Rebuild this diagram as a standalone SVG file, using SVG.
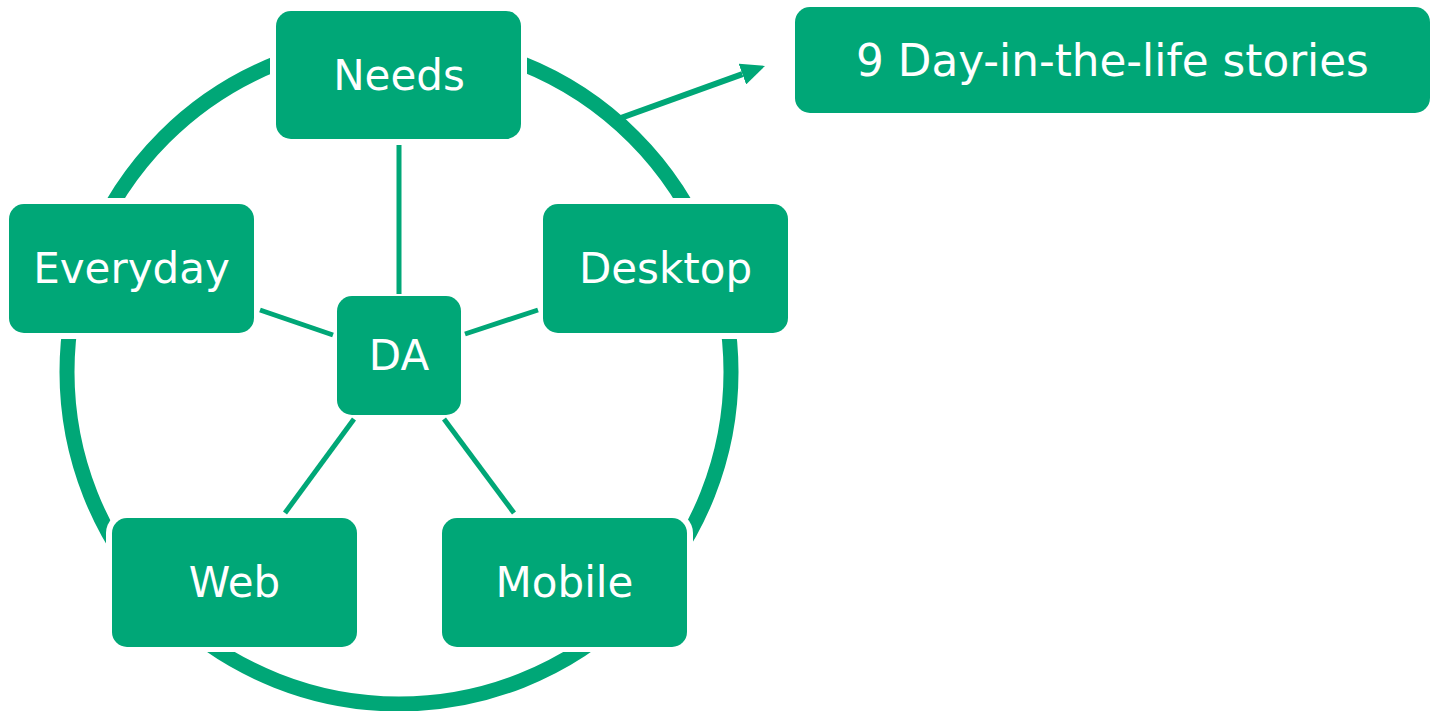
<svg xmlns="http://www.w3.org/2000/svg" width="1432" height="711" viewBox="0 0 1432 711">
  <style>
    .node rect { fill: #00A777; }
    .node text { fill: #ffffff; font-family: "DejaVu Sans", Verdana, sans-serif; font-size: 42px; text-anchor: middle; }
    #stories text { font-size: 43.7px; }
    .ring { fill: none; stroke: #00A777; stroke-width: 15; }
    .spoke { stroke: #00A777; stroke-width: 5; fill: none; }
    .arrow { stroke: #00A777; stroke-width: 6; fill: none; }
    .cut { fill: #000000; }
  </style>
  <defs>
    <marker id="head" markerUnits="userSpaceOnUse" markerWidth="24" markerHeight="22" refX="0" refY="11" orient="auto">
      <path d="M0,0 L24,11 L0,22 Z" fill="#00A777"/>
    </marker>
    <!-- the ring stops a few pixels short of every box it passes -->
    <mask id="ring-gaps" maskUnits="userSpaceOnUse" x="0" y="0" width="1432" height="711">
      <rect x="0" y="0" width="1432" height="711" fill="#ffffff"/>
      <rect class="cut" x="270" y="5" width="257" height="140" rx="21"/>
      <rect class="cut" x="3" y="198" width="257" height="141" rx="21"/>
      <rect class="cut" x="537" y="198" width="257" height="141" rx="21"/>
      <rect class="cut" x="106" y="512" width="257" height="140" rx="21"/>
      <rect class="cut" x="436" y="512" width="257" height="140" rx="21"/>
    </mask>
  </defs>

  <!-- outer ring -->
  <g id="ring" mask="url(#ring-gaps)">
    <circle class="ring" cx="399" cy="372" r="332"/>
  </g>

  <!-- connectors -->
  <g id="connectors">
    <line class="spoke" x1="399" y1="145" x2="399" y2="294"/>
    <line class="spoke" x1="260" y1="310" x2="333" y2="335"/>
    <line class="spoke" x1="538" y1="310" x2="465" y2="334"/>
    <line class="spoke" x1="354" y1="419" x2="285" y2="513"/>
    <line class="spoke" x1="444" y1="419" x2="514" y2="513"/>
    <line class="arrow" x1="618" y1="119" x2="742.4" y2="74.1" marker-end="url(#head)"/>
  </g>

  <g id="needs" class="node">
    <rect x="276" y="11" width="245" height="128" rx="15"/>
    <text x="399" y="90">Needs</text>
  </g>
  <g id="everyday" class="node">
    <rect x="9" y="204" width="245" height="129" rx="15"/>
    <text x="131.5" y="283">Everyday</text>
  </g>
  <g id="desktop" class="node">
    <rect x="543" y="204" width="245" height="129" rx="15"/>
    <text x="665.5" y="283">Desktop</text>
  </g>
  <g id="da" class="node">
    <rect x="337" y="296" width="124" height="119" rx="15"/>
    <text x="399" y="370">DA</text>
  </g>
  <g id="web" class="node">
    <rect x="112" y="518" width="245" height="129" rx="15"/>
    <text x="234.5" y="597">Web</text>
  </g>
  <g id="mobile" class="node">
    <rect x="442" y="518" width="245" height="129" rx="15"/>
    <text x="564.5" y="597">Mobile</text>
  </g>
  <g id="stories" class="node">
    <rect x="795" y="7" width="635" height="106" rx="15"/>
    <text x="1112.5" y="76">9 Day-in-the-life stories</text>
  </g>
</svg>
